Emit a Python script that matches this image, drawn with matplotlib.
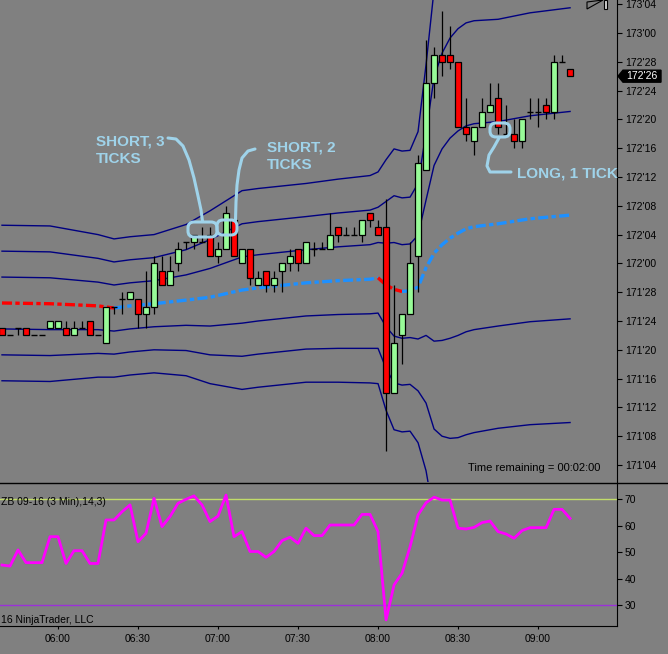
import numpy as np
import matplotlib
matplotlib.use("Agg")
import matplotlib.pyplot as plt
from matplotlib.patches import FancyBboxPatch, Polygon, Rectangle

plt.rcParams['font.family'] = ['Liberation Sans', 'DejaVu Sans']

# ZB 09-16, 3 minute bars. Prices are in 32nds above 171'00
first_bar = 339      # 05:39 in minutes after midnight
bar_minutes = 3

opens = [23, 22, 23, 23, 22, 22, 23, 23, 23, 22, 23, 24, 22, 21, 26, 27, 27, 27, 25, 26,
         31, 29, 32, 35, 35, 35, 36, 33, 34, 38, 32, 34, 29, 31, 29, 31, 32, 34, 32, 34,
         34, 34, 37, 36, 36, 36, 39, 37, 37, 14, 22, 25, 33, 45, 57, 61, 61, 60, 51, 49,
         51, 53, 55, 50, 50, 49, 53, 53, 54, 53, 60, 59]
highs = [23, 22, 23, 23, 22, 22, 24, 24, 24, 24, 24, 24, 22, 26, 26, 28, 28, 27, 31, 33,
         33, 33, 35, 35, 36, 37, 37, 35, 40, 38, 34, 34, 31, 31, 31, 32, 34, 34, 35, 35,
         35, 39, 37, 37, 37, 38, 39, 38, 41, 29, 25, 35, 47, 63, 62, 67, 65, 60, 55, 51,
         55, 57, 57, 54, 52, 52, 55, 55, 55, 61, 61, 59]
lows = [22, 22, 22, 22, 22, 22, 23, 23, 22, 22, 23, 22, 22, 21, 25, 25, 27, 23, 23, 25,
        29, 29, 31, 34, 34, 35, 33, 32, 34, 33, 32, 29, 29, 28, 28, 28, 31, 31, 32, 33,
        34, 34, 35, 36, 36, 35, 37, 36, 6, 14, 18, 25, 28, 45, 55, 58, 59, 51, 49, 47,
        51, 53, 50, 50, 48, 48, 52, 51, 52, 52, 60, 58]
closes = [22, 22, 23, 22, 22, 22, 24, 24, 22, 23, 23, 22, 22, 26, 26, 27, 28, 25, 26, 32,
          29, 31, 34, 35, 36, 35, 33, 34, 39, 33, 34, 30, 30, 29, 30, 32, 33, 32, 35, 34,
          34, 36, 36, 36, 36, 38, 38, 36, 14, 21, 25, 32, 46, 57, 61, 60, 60, 51, 50, 51,
          53, 54, 51, 50, 49, 52, 53, 53, 53, 60, 60, 58]

# RSI(14,3)
rsi = [45.2, 44.8, 50.9, 46.1, 46.1, 46.1, 55.9, 55.9, 45.8, 50.6,
       50.6, 45.8, 45.8, 62.2, 62.2, 65.3, 67.9, 54.0, 57.2, 70.4,
       59.7, 63.5, 68.5, 70.0, 71.3, 67.9, 61.6, 63.7, 71.6, 55.9,
       57.8, 50.3, 50.3, 48.1, 50.3, 54.4, 55.7, 53.4, 59.1, 56.3,
       56.3, 60.3, 60.3, 60.3, 60.3, 64.3, 64.3, 57.8, 24.5, 37.7,
       42.1, 52.1, 64.1, 68.7, 70.8, 69.7, 69.7, 59.1, 58.8, 59.4,
       61.2, 61.8, 57.8, 56.9, 55.3, 58.2, 59.3, 59.3, 59.3, 66.2,
       66.2, 62.8]

# VWAP line and its standard deviation (32nds), read at these bar times
band_t = [339, 357, 375, 381, 387, 396, 408, 417, 429, 435, 453, 465, 477, 480, 483,
          486, 489, 492, 495, 498, 501, 504, 507, 510, 513, 516, 525, 537, 552]
vwap = [26.5, 26.4, 26.1, 25.8, 26.1, 26.4, 26.9, 27.3, 28.3, 28.6, 29.3, 29.6, 29.8, 30.0, 29.0,
        28.4, 28.1, 28.2, 28.7, 31.4, 33.4, 34.6, 35.5, 36.2, 36.8, 37.1, 37.5, 38.2, 38.7]
band_sd = [3.6, 3.6, 3.3, 3.2, 3.2, 3.2, 3.5, 4.0, 4.6, 4.6, 4.6, 4.7, 4.8, 4.9, 5.8,
           6.5, 6.5, 6.5, 7.2, 9.4, 12.2, 13.3, 13.9, 14.2, 14.3, 14.3, 14.2, 14.3, 14.4]

time_ticks = [360, 390, 420, 450, 480, 510, 540]


def to_price(v):
    return 171 + np.asarray(v, dtype=float) / 32


def fmt_price(p, pos=None):
    whole = int(np.floor(p + 1e-9))
    frac = int(round((p - whole) * 32))
    if frac == 32:
        whole, frac = whole + 1, 0
    return f"{whole}'{frac:02d}"


def fmt_time(m, pos=None):
    return f"{int(m // 60):02d}:{int(m % 60):02d}"


bg = '#808080'
navy = '#000080'
ann = '#9fd3ea'
W, H = 668, 654


def box(left, top, right, bottom):
    return [left / W, 1 - bottom / H, (right - left) / W, (bottom - top) / H]


fig = plt.figure(figsize=(W / 100, H / 100), dpi=100, facecolor=bg)
ax = fig.add_axes(box(0, 0, 617, 482))
ax_rsi = fig.add_axes(box(0, 483, 617, 626), sharex=ax)
for a in (ax, ax_rsi):
    a.set_facecolor(bg)

t = first_bar + bar_minutes * np.arange(len(opens))
o, h, l, c = (to_price(v) for v in (opens, highs, lows, closes))

# bands
bt = np.array(band_t)
mid = np.array(vwap)
sd = np.array(band_sd)
for k in (1, 2, 3):
    ax.plot(bt, to_price(mid + k * sd), color=navy, lw=1, zorder=1)
    ax.plot(bt, to_price(mid - k * sd), color=navy, lw=1, zorder=1)

# vwap coloured by slope
runs = []
for i in range(len(bt) - 1):
    col = '#1e90ff' if mid[i + 1] > mid[i] else '#ff0000'
    if not runs or runs[-1][0] != col:
        runs.append([col, [bt[i]], [mid[i]]])
    runs[-1][1].append(bt[i + 1])
    runs[-1][2].append(mid[i + 1])
for col, xs, ys in runs:
    ax.plot(xs, to_price(ys), color=col, lw=2.4, linestyle=(0, (3, 1, 1.3, 1)),
            solid_capstyle='butt', zorder=2)

# candles
body_w = 2.25
ax.vlines(t, l, h, color='black', lw=0.9, zorder=3)
up = c > o
down = c < o
ax.bar(t[up], (c - o)[up], bottom=o[up], width=body_w, color='#98fb98',
       edgecolor='black', linewidth=0.9, zorder=4)
ax.bar(t[down], (o - c)[down], bottom=c[down], width=body_w, color='#ff0000',
       edgecolor='black', linewidth=0.9, zorder=4)
flat = c == o
ax.hlines(o[flat], t[flat] - body_w / 2, t[flat] + body_w / 2, color='black', lw=1, zorder=4)

ax.set_xlim(338.25, 569.6)
ax.set_ylim(to_price(1.64), to_price(68.58))
ax.yaxis.tick_right()
ax.set_yticks(to_price(np.arange(4, 69, 4)))
ax.yaxis.set_major_formatter(fmt_price)
ax.tick_params(axis='y', direction='out', length=3.6, width=0.8, pad=2,
               labelsize=7.5, colors='black')
ax.tick_params(axis='x', bottom=False, labelbottom=False)
for s in ('left', 'top', 'bottom'):
    ax.spines[s].set_visible(False)
ax.spines['right'].set_color('black')

ax.text(468 / 617, 1 - 468 / 482, 'Time remaining = 00:02:00', transform=ax.transAxes,
        fontsize=8, color='black', va='center', ha='left')

# RSI panel
ax_rsi.plot(t, rsi, color='#ff00ff', lw=2, zorder=3)
ax_rsi.axhline(70, color='#c2dc6a', lw=1, zorder=2)
ax_rsi.axhline(30, color='#9b30d9', lw=1, zorder=2)
ax_rsi.set_ylim(22.2, 76.15)
ax_rsi.yaxis.tick_right()
ax_rsi.set_yticks([30, 40, 50, 60, 70])
ax_rsi.set_xticks(time_ticks)
ax_rsi.xaxis.set_major_formatter(fmt_time)
ax_rsi.tick_params(axis='y', direction='out', length=3.6, width=0.8, pad=2,
                   labelsize=7.5, colors='black')
ax_rsi.tick_params(axis='x', direction='out', length=2.5, width=0.8, pad=3,
                   labelsize=7.5, colors='black')
for s in ('left', 'top'):
    ax_rsi.spines[s].set_visible(False)
ax_rsi.text(1 / 617, 1 - 19 / 143, 'ZB 09-16 (3 Min),14,3)', transform=ax_rsi.transAxes,
            fontsize=7.5, color='black', va='center', ha='left')
ax_rsi.text(1 / 617, 1 - 137 / 143, '16 NinjaTrader, LLC', transform=ax_rsi.transAxes,
            fontsize=7.5, color='black', va='center', ha='left')

# overlay in pixel coordinates for the hand drawn notes
ov = fig.add_axes([0, 0, 1, 1], zorder=10)
ov.set_xlim(0, W)
ov.set_ylim(H, 0)
ov.axis('off')

ov.plot([0, W], [483, 483], color='black', lw=1)

kw = dict(color=ann, fontsize=11, fontweight='bold', va='baseline', ha='left')
ov.text(96, 145, 'SHORT, 3', **kw)
ov.text(96, 163, 'TICKS', **kw)
ov.text(267, 152, 'SHORT, 2', **kw)
ov.text(267, 169, 'TICKS', **kw)
ov.text(517, 177, 'LONG, 1 TICK', **kw)

ov.plot([168, 176, 183, 189, 194, 198, 201, 202.5], [138, 139, 146, 160, 178, 196, 210, 221],
        color=ann, lw=2.2, solid_capstyle='round')
ov.plot([255, 248, 242, 239, 237, 236, 235.5], [149, 151, 158, 170, 185, 202, 220],
        color=ann, lw=2.2, solid_capstyle='round')
ov.plot([511, 490, 487, 489, 494, 499], [172, 172, 166, 155, 147, 138],
        color=ann, lw=2.2, solid_capstyle='round')
for (x0, y0, w, hh) in [(188, 222, 29, 15), (217, 220, 20, 15), (490, 123, 20, 14)]:
    ov.add_patch(FancyBboxPatch((x0, y0), w, hh, boxstyle='round,pad=0,rounding_size=6',
                                fill=False, ec=ann, lw=2.2))

# last price marker
fig.canvas.draw()
last = c[-1]
y_last = H - ax.transData.transform((ax.get_xlim()[1], last))[1]
ov.add_patch(Polygon([(618, y_last), (623, y_last - 6), (661, y_last - 6),
                      (661, y_last + 6), (623, y_last + 6)], closed=True, fc='black', ec='black'))
ov.text(642, y_last, fmt_price(last), color='white', fontsize=7.5, ha='center', va='center')

# small navigation glyph in the top right corner
ov.add_patch(Polygon([(587, 2), (587, 9), (603, 0)], closed=True, fill=False, ec='black', lw=0.8))
ov.add_patch(Rectangle((604, 0), 3, 9, fc='#d0d0d0', ec='black', lw=0.8))

fig.savefig('out.png', dpi=100, facecolor=fig.get_facecolor())
